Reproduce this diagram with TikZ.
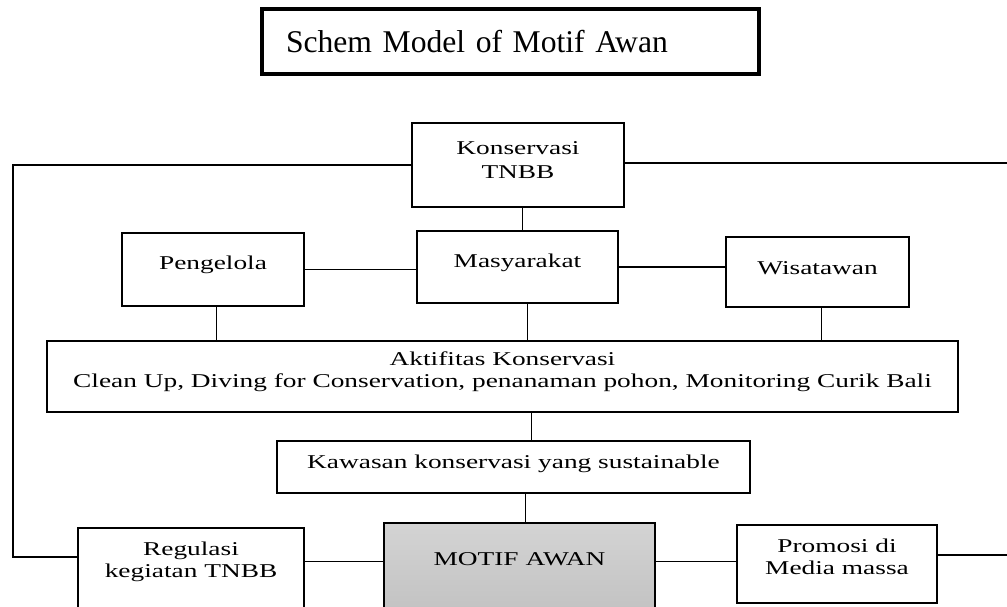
\documentclass[tikz,border=0pt]{standalone}
\usepackage{fontspec}
\setmainfont{Liberation Serif}
\newfontfamily\wideserif[FakeStretch=1.40]{Liberation Serif}
\usetikzlibrary{positioning}

\begin{document}
\begin{tikzpicture}[
    box/.style={rectangle, draw, line width=0.9pt, align=center, inner sep=0pt,
        font=\wideserif\fontsize{13.9}{15.6}\selectfont},
    lift/.style={text depth=#1},
    link/.style={line width=0.8pt}
]
\useasboundingbox (0,0) rectangle (25.175,-15.15);
\clip (0,0) rectangle (25.175,-15.15);

% Title
\node[rectangle, draw, line width=3.2pt, minimum height=1.625cm, text width=11.225cm,
    inner xsep=0.6cm, align=left, font=\fontsize{22.5}{27}\selectfont] (title) at (12.7625,-1.0375)
    {Schem Model of Motif Awan};

% Upper row
\node[box, minimum width=5.3cm, minimum height=2.1cm, lift=7pt] (kons) at (12.95,-4.125) {Konservasi\\[2pt]TNBB};
\node[box, minimum width=4.55cm, minimum height=1.825cm, lift=9pt] (peng) at (5.325,-6.7375) {Pengelola};
\node[box, minimum width=5.025cm, minimum height=1.8cm, lift=9pt] (masy) at (12.9375,-6.675) {Masyarakat};
\node[box, minimum width=4.575cm, minimum height=1.75cm, lift=6pt] (wisa) at (20.4375,-6.8) {Wisatawan};

% Activities and result
\node[box, minimum width=22.775cm, minimum height=1.775cm, lift=10pt] (akti) at (12.5625,-9.4125)
    {Aktifitas Konservasi\\Clean Up, Diving for Conservation, penanaman pohon, Monitoring Curik Bali};
\node[box, minimum width=11.825cm, minimum height=1.3cm, lift=7pt] (kawa) at (12.8375,-11.675)
    {Kawasan konservasi yang sustainable};

% Bottom row
\node[box, minimum width=5.65cm, minimum height=2.15cm, lift=16pt] (regu) at (4.775,-14.275) {Regulasi\\kegiatan TNBB};
\node[box, minimum width=6.775cm, minimum height=2.275cm, lift=14pt, top color=gray!34, bottom color=gray!48]
    (motif) at (12.9875,-14.2125) {MOTIF AWAN};
\node[box, minimum width=5cm, minimum height=1.95cm, lift=10pt] (promo) at (20.925,-14.1) {Promosi di\\Media massa};

\coordinate (lrail) at (0.325,-13.925);
\coordinate (rtop) at (25.175,-4.075);
\coordinate (rbot) at (25.175,-13.875);
\coordinate (mrow) at (0,-14.04);

% Outer lines
\draw[link] (kons.west) -| (lrail) -- (lrail -| regu.west);
\draw[link] (kons.east |- rtop) -- (rtop);
\draw[link] (promo.east |- rbot) -- (rbot);

% Inner lines
\draw[link] ([xshift=0.12cm]kons.south) -- ([xshift=0.12cm]kons.south |- masy.north);
\draw[link] (peng.east) -- (peng.east -| masy.west);
\draw[link] (masy.east) -- (masy.east -| wisa.west);
\draw[link] ([xshift=0.08cm]peng.south) -- ([xshift=0.08cm]peng.south |- akti.north);
\draw[link] ([xshift=0.24cm]masy.south) -- ([xshift=0.24cm]masy.south |- akti.north);
\draw[link] ([xshift=0.11cm]wisa.south) -- ([xshift=0.11cm]wisa.south |- akti.north);
\draw[link] ([xshift=0.45cm]kawa.north) -- ([xshift=0.45cm]kawa.north |- akti.south);
\draw[link] ([xshift=0.14cm]motif.north |- kawa.south) -- ([xshift=0.14cm]motif.north);
\draw[link] (regu.east |- mrow) -- (motif.west |- mrow);
\draw[link] (motif.east |- mrow) -- (promo.west |- mrow);
\end{tikzpicture}
\end{document}
